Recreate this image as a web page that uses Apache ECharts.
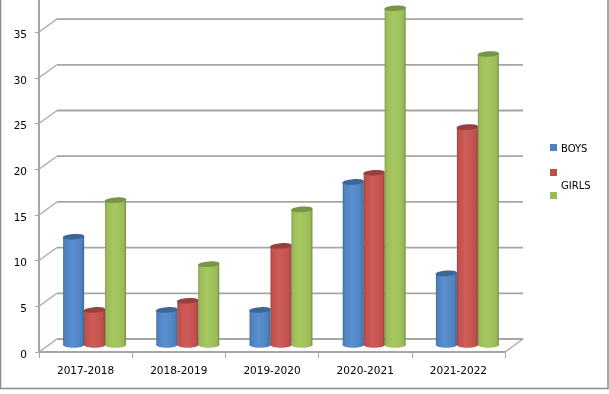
<!DOCTYPE html>
<html><head><meta charset="utf-8">
<style>html,body{margin:0;padding:0;background:#fff}#c{width:609px;height:394px}</style>
<script src="https://cdn.jsdelivr.net/npm/echarts@6/dist/echarts.min.js"></script>
</head><body><div id="c"></div>
<script>
const categories = ['2017-2018','2018-2019','2019-2020','2020-2021','2021-2022'];
const boys = [12,4,4,18,8];
const girlsRed = [4,5,11,19,24];
const girls = [16,9,15,37,32];
const wallTicks = [0,5,10,15,20,25,30,35];

const FONT = 'DejaVu Sans';
const depthX = 18, depthY = 13, midX = 9, barW = 21, ry = 2.8, tilt = 0.07;

function cyl(base, edge, light, cap) {
  return function (params, api) {
    const i = api.value(0), v = api.value(1);
    const band = api.size([1, 0])[0];
    const c = api.coord([i, v]), z = api.coord([i, 0]);
    const cx = c[0] + midX + (params.seriesIndex - 2) * band * 0.225;
    const top = c[1] - 5.5, bot = z[1] - 7;
    const x = cx - barW / 2;
    const grad = {type:'linear',x:0,y:0,x2:1,y2:0,colorStops:[
      {offset:0,color:edge},{offset:0.07,color:base},{offset:0.42,color:light},
      {offset:0.88,color:base},{offset:1,color:edge}]};
    return {type:'group',children:[
      {type:'ellipse',shape:{cx:cx,cy:bot,rx:barW/2,ry:ry},originX:cx,originY:bot,style:{fill:grad}},
      {type:'rect',shape:{x:x,y:top,width:barW,height:bot-top},style:{fill:grad}},
      {type:'ellipse',shape:{cx:cx,cy:top,rx:barW/2+0.3,ry:ry},originX:cx,originY:top,rotation:tilt,style:{fill:cap}}
    ]};
  };
}
function wall(params, api) {
  const v = api.value(0), cs = params.coordSys;
  const y = api.coord([0, v])[1], l = cs.x, r = cs.x + cs.width;
  const ln = (x1,y1,x2,y2,w) => ({type:'line',shape:{x1,y1,x2,y2},style:{stroke:'#a6a6a6',lineWidth:w}});
  const ch = [ln(l,y,l+depthX,y-depthY,1.2), ln(l+depthX,y-depthY,r+depthX,y-depthY,1.8)];
  if (v === 0) ch.push(ln(r,y,r+depthX,y-depthY,1.2));
  return {type:'group',children:ch};
}
const chart = echarts.init(document.getElementById('c'), null, {renderer:'canvas'});
chart.setOption({
  animation:false,
  backgroundColor:'#fff',
  grid:{left:39,top:-13.6,width:466,height:365.6,outerBoundsMode:'none'},
  xAxis:{type:'category',data:categories,
    axisLine:{lineStyle:{color:'#a6a6a6',width:2}},
    axisTick:{show:true,length:6,lineStyle:{color:'#a6a6a6',width:1}},
    axisLabel:{color:'#000',fontFamily:FONT,fontSize:10.5,margin:14},splitLine:{show:false}},
  yAxis:{type:'value',min:0,max:40,interval:5,
    axisLine:{show:true,lineStyle:{color:'#a6a6a6',width:2}},
    axisTick:{show:true,length:4,lineStyle:{color:'#a6a6a6',width:1}},
    axisLabel:{color:'#000',fontFamily:FONT,fontSize:10.5,margin:12,verticalAlign:'top',lineHeight:6},splitLine:{show:false}},
  legend:[
    {orient:'vertical',left:550,top:141.5,padding:0,itemWidth:7,itemHeight:7,itemGap:12,icon:'rect',
     selectedMode:false,
     textStyle:{color:'#000',fontFamily:FONT,fontSize:10,lineHeight:12,rich:{a:{fontFamily:FONT,fontSize:10,color:'#000',padding:[4,0,0,-1]}}},
     formatter:n=>n===' '?' ':'{a|'+n+'}',data:['BOYS',' ']},
    {orient:'vertical',left:550,top:177.5,padding:0,itemWidth:7,itemHeight:7,icon:'rect',
     selectedMode:false,
     textStyle:{color:'#000',fontFamily:FONT,fontSize:10,lineHeight:18,rich:{g:{fontFamily:FONT,fontSize:10,color:'#000',lineHeight:18,padding:[0,0,0,-1]}}},
     formatter:n=>'{g|'+n+'}\n ',data:['GIRLS']}
  ],
  graphic:[{type:'rect',silent:true,z:100,shape:{x:0.5,y:-5,width:607.5,height:393.5},style:{fill:null,stroke:'#8c8c8c',lineWidth:1.5}}],
  series:[
    {type:'custom',name:'wall',silent:true,z:1,data:wallTicks.map(v=>[v]),renderItem:wall,encode:{y:0}},
    {type:'custom',name:'BOYS',z:3,itemStyle:{color:'#4F81BD'},data:boys.map((v,i)=>[i,v]),renderItem:cyl('#4F81BD','#3a6797','#5a90d0','#3a6797'),encode:{x:0,y:1}},
    {type:'custom',name:' ',z:3,itemStyle:{color:'#C0504D'},data:girlsRed.map((v,i)=>[i,v]),renderItem:cyl('#C0504D','#93403e','#d05c59','#97403e'),encode:{x:0,y:1}},
    {type:'custom',name:'GIRLS',z:3,itemStyle:{color:'#9BBB59'},data:girls.map((v,i)=>[i,v]),renderItem:cyl('#9BBB59','#778f45','#a6c85f','#7a9446'),encode:{x:0,y:1}}
  ]
});
</script></body></html>
